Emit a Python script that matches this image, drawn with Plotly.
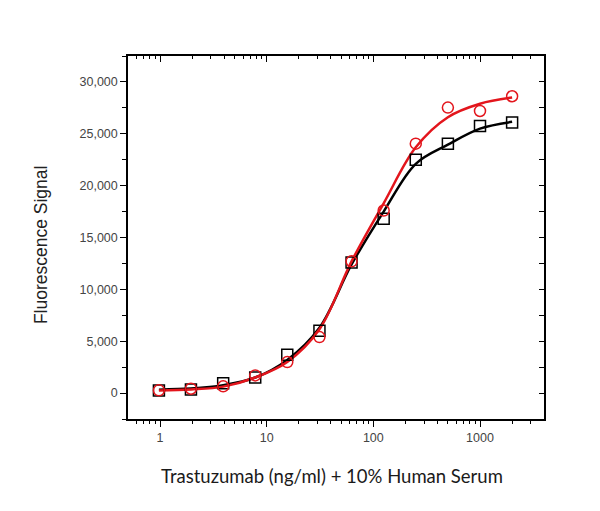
import plotly.graph_objects as go

# Concentrations (ng/ml), two-fold dilution series
conc = [0.977, 1.95, 3.91, 7.81, 15.6, 31.25, 62.5, 125, 250, 500, 1000, 2000]

# Measured points
black_pts = [250, 350, 950, 1500, 3700, 6000, 12600, 16800, 22500, 24050, 25750, 26080]
red_pts = [260, 420, 650, 1700, 2990, 5400, 12700, 17600, 24050, 27530, 27200, 28620]

# Fitted curves
black_fit = [330, 430, 750, 1500, 3200, 6300, 12400, 17500, 22100, 23950, 25500, 26150]
red_fit = [250, 350, 620, 1500, 3000, 6150, 12700, 18300, 23700, 26600, 27900, 28500]

x_ticks = [1, 10, 100, 1000]
x_ticktext = ["1", "10", "100", "1000"]

BLACK = "#000000"
RED = "#e3151c"

fig = go.Figure()

fig.add_trace(go.Scatter(x=conc, y=black_fit, mode="lines", line=dict(color=BLACK, width=2.5, shape="spline", smoothing=1.0), showlegend=False, hoverinfo="skip"))
fig.add_trace(go.Scatter(x=conc, y=red_fit, mode="lines", line=dict(color=RED, width=2.5, shape="spline", smoothing=1.0), showlegend=False, hoverinfo="skip"))
fig.add_trace(go.Scatter(x=conc, y=black_pts, mode="markers",
                         marker=dict(symbol="square-open", size=11, color=BLACK, line=dict(width=1.5, color=BLACK)),
                         showlegend=False))
fig.add_trace(go.Scatter(x=conc, y=red_pts, mode="markers",
                         marker=dict(symbol="circle-open", size=11, color=RED, line=dict(width=1.5, color=RED)),
                         showlegend=False))
# invisible trace to render mirrored (top/right) axes
fig.add_trace(go.Scatter(x=[1], y=[0], xaxis="x2", yaxis="y2", mode="markers",
                         marker=dict(opacity=0), showlegend=False, hoverinfo="skip"))

xr = [-0.3, 3.6]
yr = [-2500, 32500]
tickfont = dict(family="Liberation Sans, Arial, sans-serif", size=12.5, color="#444444")

fig.update_layout(
    width=600, height=511,
    margin=dict(l=128, r=56, t=56, b=92),
    paper_bgcolor="white", plot_bgcolor="white",
    xaxis=dict(type="log", range=xr, tickvals=x_ticks, ticktext=x_ticktext,
               ticks="outside", ticklen=6, tickwidth=1.3, tickcolor=BLACK,
               showline=True, linecolor=BLACK, linewidth=1.5, showgrid=False, zeroline=False,
               tickfont=tickfont,
               minor=dict(ticks="outside", ticklen=3.5, tickwidth=1.2, tickcolor=BLACK, dtick="D1", showgrid=False)),
    yaxis=dict(range=yr, tick0=0, dtick=5000, tickformat=",",
               ticks="outside", ticklen=6, tickwidth=1.3, tickcolor=BLACK,
               showline=True, linecolor=BLACK, linewidth=1.5, showgrid=False, zeroline=False,
               tickfont=tickfont,
               minor=dict(ticks="outside", ticklen=4, tickwidth=1.2, tickcolor=BLACK, dtick=2500, showgrid=False)),
    xaxis2=dict(type="log", range=xr, overlaying="x", side="top", tickvals=x_ticks,
                ticks="inside", ticklen=6, tickwidth=1.3, tickcolor=BLACK, showticklabels=False,
                showline=True, linecolor=BLACK, linewidth=1.5, showgrid=False, zeroline=False,
                minor=dict(ticks="inside", ticklen=3.5, tickwidth=1.2, tickcolor=BLACK, dtick="D1", showgrid=False)),
    yaxis2=dict(range=yr, overlaying="y", side="right", tick0=0, dtick=5000,
                ticks="inside", ticklen=5, tickwidth=1.3, tickcolor=BLACK, showticklabels=False,
                showline=True, linecolor=BLACK, linewidth=1.5, showgrid=False, zeroline=False,
                minor=dict(ticks="inside", ticklen=5, tickwidth=1.2, tickcolor=BLACK, dtick=2500, showgrid=False)),
    annotations=[
        dict(text="Trastuzumab (ng/ml) + 10% Human Serum", xref="paper", yref="paper",
             x=0.49, y=0, yshift=-57, xanchor="center", yanchor="middle", showarrow=False,
             font=dict(family="Lato, Open Sans, sans-serif", size=18.5, color="#1a1a1a")),
        dict(text="Fluorescence Signal", xref="paper", yref="paper",
             x=0, xshift=-87, y=0.479, xanchor="center", yanchor="middle", textangle=-90, showarrow=False,
             font=dict(family="Liberation Sans, Arial, sans-serif", size=17.5, color="#222222")),
    ],
)

fig.write_html("out.html")
